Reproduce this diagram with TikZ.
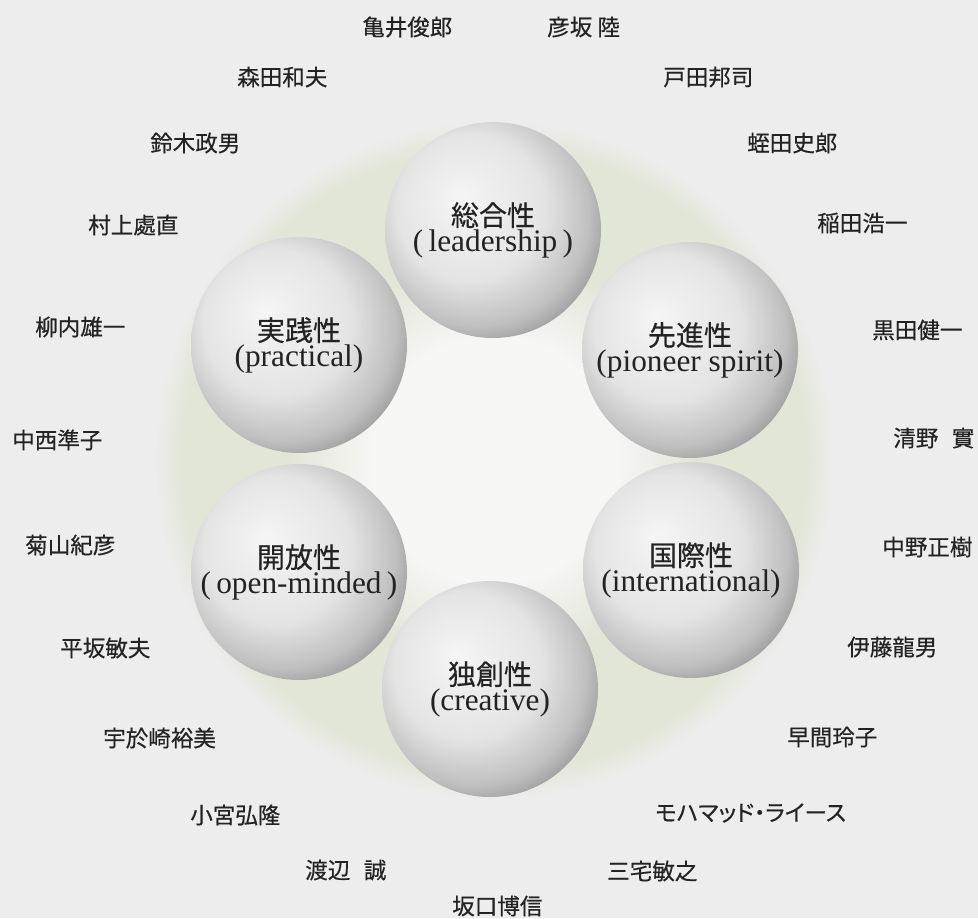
\documentclass[tikz,border=0pt]{standalone}
\usepackage{fontspec}
\setmainfont{Liberation Serif}
\newfontfamily\jpsans[FakeBold=0.4]{Noto Sans CJK JP}
\usepackage{tikz}

\definecolor{bggray}{RGB}{237,237,237}
\definecolor{halomid}{RGB}{246,246,245}
\definecolor{haloring}{RGB}{226,230,215}
\definecolor{inkgray}{RGB}{35,35,35}
\definecolor{pearlA}{RGB}{245,245,245}
\definecolor{pearlB}{RGB}{228,228,228}
\definecolor{pearlC}{RGB}{192,192,192}
\definecolor{pearlD}{RGB}{135,135,135}
\definecolor{pearlE}{RGB}{105,105,105}

\pgfdeclareradialshading{halo}{\pgfpointorigin}{color(0bp)=(halomid); color(9bp)=(halomid); color(15bp)=(haloring); color(23bp)=(haloring); color(25bp)=(bggray); color(50bp)=(bggray)}
\pgfdeclareradialshading{pearlshade}{\pgfpoint{-8bp}{8bp}}{color(0bp)=(pearlA); color(17bp)=(pearlB); color(26bp)=(pearlC); color(33bp)=(pearlD); color(38bp)=(pearlE); color(50bp)=(pearlE)}

\newcommand{\jplabel}{\jpsans\fontsize{21}{26}\selectfont}
\newcommand{\enlabel}{\fontsize{23.5}{26}\selectfont}

\begin{document}
\begin{tikzpicture}[x=0.75pt,y=0.75pt,yscale=-1,xscale=1,
  member/.style={anchor=west,inner sep=0pt,text=inkgray,font=\jpsans\fontsize{16.9}{20}\selectfont},
  pearl/.style={circle,minimum size=162pt,inner sep=0pt,shade,shading=pearlshade,text=inkgray,align=center}]
\useasboundingbox (0,0) rectangle (978,918);
\fill [bggray] (0,0) rectangle (978,918);

% Halo
\shade [shading=halo] (494,460) circle (340);

% Sphere
\node (lead) [pearl] at (493,230) {\jplabel 総合性\\ \enlabel (\,leadership\,)};
% Sphere
\node (pion) [pearl] at (690,350) {\jplabel 先進性\\ \enlabel (pioneer spirit)};
% Sphere
\node (prac) [pearl] at (299,345) {\jplabel 実践性\\ \enlabel (practical)};
% Sphere
\node (open) [pearl] at (299,572) {\jplabel 開放性\\ \enlabel (\,open-minded\,)};
% Sphere
\node (intl) [pearl] at (691,570) {\jplabel 国際性\\ \enlabel (international)};
% Sphere
\node (crea) [pearl] at (490,689) {\jplabel 独創性\\ \enlabel (creative)};

% Text Node
\draw (362,27) node (kamei) [member] {亀井俊郎};
% Text Node
\draw (547,27) node (hikosaka) [member] {彦坂 陸};
% Text Node
\draw (237,77) node (morita) [member] {森田和夫};
% Text Node
\draw (663,77) node (toda) [member] {戸田邦司};
% Text Node
\draw (150,143) node (suzuki) [member] {鈴木政男};
% Text Node
\draw (747,143) node (hiruta) [member] {蛭田史郎};
% Text Node
\draw (88,225) node (murakami) [member] {村上處直};
% Text Node
\draw (817,223) node (inada) [member] {稲田浩一};
% Text Node
\draw (35,327) node (yanai) [member] {柳内雄一};
% Text Node
\draw (872,330) node (kuroda) [member] {黒田健一};
% Text Node
\draw (12,440) node (nakanishi) [member] {中西準子};
% Text Node
\draw (893,438) node (seino) [member] {清野\hspace{0.6em}實};
% Text Node
\draw (25,545) node (kikuyama) [member] {菊山紀彦};
% Text Node
\draw (882,547) node (nakano) [member] {中野正樹};
% Text Node
\draw (60,648) node (hirasaka) [member] {平坂敏夫};
% Text Node
\draw (847,647) node (ito) [member] {伊藤龍男};
% Text Node
\draw (103,738) node (uozaki) [member] {宇於崎裕美};
% Text Node
\draw (787,737) node (hayama) [member] {早間玲子};
% Text Node
\draw (190,815) node (komiya) [member] {小宮弘隆};
% Text Node
\draw (655,813) node (rais) [member] {\addfontfeatures{RawFeature=+palt}モハマッド・ライース};
% Text Node
\draw (305,870) node (watanabe) [member] {渡辺\hspace{0.6em}誠};
% Text Node
\draw (607,871) node (miyake) [member] {三宅敏之};
% Text Node
\draw (452,906) node (sakaguchi) [member] {坂口博信};

\end{tikzpicture}
\end{document}
